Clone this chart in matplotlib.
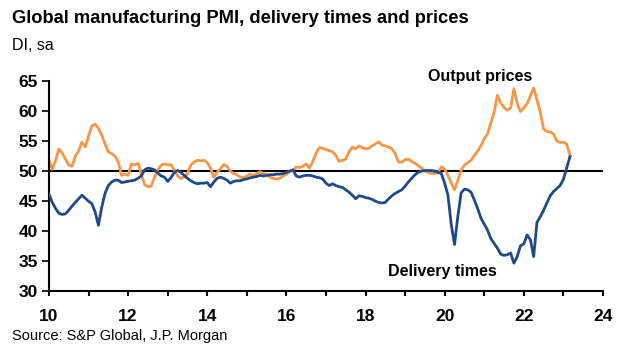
import matplotlib.pyplot as plt
import numpy as np

# Monthly readings, Jan 2010 .. Mar 2023 (x axis in two-digit years)
START_YEAR = 10

delivery_times = [
    46.2, 44.8, 43.8, 43.0, 42.8, 42.9, 43.5, 44.2, 44.8, 45.4, 46.0, 45.5,   # 2010
    45.0, 44.6, 43.2, 41.0, 44.0, 46.3, 47.6, 48.2, 48.5, 48.5, 48.1, 48.2,   # 2011
    48.3, 48.4, 48.5, 48.8, 49.2, 50.2, 50.5, 50.4, 50.2, 49.7, 49.2, 49.0,   # 2012
    48.3, 48.9, 49.8, 50.1, 49.8, 49.3, 48.8, 48.4, 48.1, 47.9, 48.0, 48.0,   # 2013
    48.1, 47.4, 48.2, 48.8, 49.0, 48.8, 48.5, 48.0, 48.3, 48.4, 48.4, 48.6,   # 2014
    48.7, 48.9, 49.0, 49.1, 49.3, 49.2, 49.3, 49.4, 49.4, 49.5, 49.5, 49.6,   # 2015
    49.8, 50.0, 50.2, 49.2, 49.0, 49.2, 49.3, 49.3, 49.2, 49.0, 48.9, 48.7,   # 2016
    48.0, 47.6, 47.9, 47.6, 47.4, 47.3, 46.9, 46.5, 46.0, 45.4, 45.9, 45.8,   # 2017
    45.6, 45.5, 45.3, 45.0, 44.8, 44.7, 44.8, 45.4, 45.9, 46.3, 46.6, 46.9,   # 2018
    47.5, 48.2, 48.8, 49.4, 49.8, 50.0, 50.1, 50.1, 50.1, 50.0, 49.8, 49.6,   # 2019
    48.0, 46.0, 41.1, 37.8, 42.5, 46.4, 47.0, 46.9, 46.5, 45.2, 43.8, 42.2,   # 2020
    41.2, 40.2, 38.8, 38.0, 37.2, 36.2, 36.0, 36.1, 36.4, 34.7, 35.8, 37.6,   # 2021
    37.9, 39.4, 38.6, 35.8, 41.5, 42.4, 43.5, 44.7, 45.9, 46.6, 47.1, 47.6,   # 2022
    48.6, 50.5, 52.4,                                                         # 2023
]

output_prices = [
    51.8, 50.3, 51.8, 53.7, 53.0, 52.0, 51.0, 50.8, 52.5, 53.4, 54.8, 54.0,   # 2010
    55.8, 57.5, 57.8, 57.1, 56.0, 54.5, 53.2, 52.9, 52.5, 51.5, 49.3, 49.5,   # 2011
    49.3, 51.2, 51.0, 51.3, 49.5, 47.8, 47.4, 47.5, 49.0, 50.2, 51.0, 51.2,   # 2012
    51.0, 51.1, 50.2, 49.2, 48.8, 49.0, 49.6, 51.0, 51.5, 51.8, 51.7, 51.8,   # 2013
    51.4, 50.5, 49.0, 49.8, 50.4, 51.1, 50.8, 50.0, 49.6, 49.4, 49.0, 48.9,   # 2014
    49.2, 49.5, 49.3, 49.6, 49.9, 49.6, 49.4, 49.0, 48.8, 48.7, 48.8, 49.2,   # 2015
    49.5, 49.9, 50.1, 50.7, 50.6, 50.8, 51.2, 50.5, 51.6, 53.0, 53.9, 53.8,   # 2016
    53.6, 53.4, 53.2, 52.6, 51.6, 51.8, 52.0, 53.2, 54.0, 53.7, 54.2, 53.9,   # 2017
    53.7, 53.8, 54.2, 54.5, 54.9, 54.3, 54.2, 54.0, 53.7, 52.9, 51.5, 51.5,   # 2018
    51.9, 52.0, 51.6, 51.3, 50.9, 50.5, 50.0, 49.8, 49.6, 49.6, 49.8, 50.7,   # 2019
    50.3, 49.3, 48.0, 46.9, 48.5, 50.1, 51.0, 51.4, 51.8, 52.6, 53.3, 54.2,   # 2020
    55.4, 56.2, 58.0, 59.8, 62.6, 61.3, 60.6, 60.1, 60.5, 63.7, 61.3, 59.9,   # 2021
    60.5, 61.2, 62.5, 63.8, 61.8, 59.8, 57.0, 56.6, 56.5, 56.2, 55.0, 54.8,   # 2022
    54.8, 54.5, 52.6,                                                         # 2023
]

x_ticks = list(range(10, 25))
x_labels = [str(t) if t % 2 == 0 else "" for t in x_ticks]
y_ticks = [30, 35, 40, 45, 50, 55, 60, 65]

BLUE = "#1F4A86"
ORANGE = "#F79646"
FONT = ["Liberation Sans Narrow", "Liberation Sans", "DejaVu Sans"]

plt.rcParams["font.family"] = FONT

x = START_YEAR + np.arange(len(delivery_times)) / 12

fig = plt.figure(figsize=(6.36, 3.47), dpi=100)
ax = fig.add_axes([0.077, 0.160, 0.871, 0.607])

ax.axhline(50, color="black", lw=1.5, zorder=1)
ax.plot(x, output_prices, color=ORANGE, lw=2.0, zorder=2)
ax.plot(x, delivery_times, color=BLUE, lw=2.0, zorder=3)

ax.set_xlim(10, 24)
ax.set_ylim(30, 65)
ax.set_xticks(x_ticks)
ax.set_xticklabels(x_labels)
ax.set_yticks(y_ticks)

for side in ("top", "right"):
    ax.spines[side].set_visible(False)
for side in ("left", "bottom"):
    ax.spines[side].set_linewidth(1.5)
ax.tick_params(axis="x", direction="out", length=3.5, width=1.5, pad=9)
ax.tick_params(axis="y", direction="out", length=5, width=1.2, pad=3)
for lab in ax.get_xticklabels() + ax.get_yticklabels():
    lab.set_fontsize(12.5)
    lab.set_fontweight("bold")

ax.text(20.9, 65.7, "Output prices", fontsize=11.5, fontweight="bold", ha="center", va="center")
ax.text(19.94, 33.4, "Delivery times", fontsize=11.5, fontweight="bold", ha="center", va="center")

fig.text(0.019, 0.948, "Global manufacturing PMI, delivery times and prices",
         fontsize=13.2, fontweight="bold", va="center")
fig.text(0.019, 0.870, "DI, sa", fontsize=11.5, va="center")
fig.text(0.019, 0.031, "Source: S&P Global, J.P. Morgan", fontsize=10.5, va="center")

fig.savefig("out.png", dpi=100)
